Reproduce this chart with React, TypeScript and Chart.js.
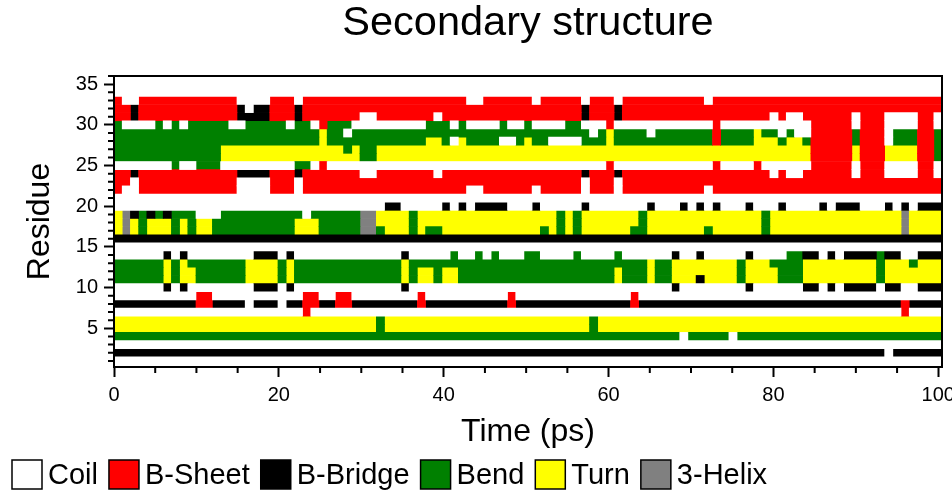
import React, { useEffect, useRef } from 'react';
import { Chart, registerables } from 'chart.js';

Chart.register(...registerables);

const FONT = "'Liberation Sans', Arial, Helvetica, sans-serif";

const structureNames = ['Coil', 'B-Sheet', 'B-Bridge', 'Bend', 'Turn', '3-Helix'];
const structureCodes = ['C', 'E', 'B', 'S', 'T', 'G'];
const structureColors = ['#ffffff', '#ff0000', '#000000', '#008000', '#ffff00', '#808080'];

// time covered by one DSSP frame (ps)
const frameTimePs = 0.9946;
const xMaxPs = 100.45;
const yMinResidue = 0.25;
const yMaxResidue = 36;
const xTickValues = [0, 20, 40, 60, 80, 100];
const yTickValues = [5, 10, 15, 20, 25, 30, 35];
const xMinorStep = 5;
const yMinorStep = 1;

// one string per residue (1 at the bottom), one letter per frame
// C coil, E B-sheet, B B-bridge, S bend, T turn, G 3-helix
const residue01 = 'CCCCCCCCCC CCCCCCCCCC CCCCCCCCCC CCCCCCCCCC CCCCCCCCCC CCCCCCCCCC CCCCCCCCCC CCCCCCCCCC CCCCCCCCCC CCCCCCCCCC C';
const residue02 = 'BBBBBBBBBB BBBBBBBBBB BBBBBBBBBB BBBBBBBBBB BBBBBBBBBB BBBBBBBBBB BBBBBBBBBB BBBBBBBBBB BBBBBBBBBB BBBBCBBBBB B';
const residue03 = 'CCCCCCCCCC CCCCCCCCCC CCCCCCCCCC CCCCCCCCCC CCCCCCCCCC CCCCCCCCCC CCCCCCCCCC CCCCCCCCCC CCCCCCCCCC CCCCCCCCCC C';
const residue04 = 'SSSSSSSSSS SSSSSSSSSS SSSSSSSSSS SSSSSSSSSS SSSSSSSSSS SSSSSSSSSS SSSSSSSSSC SSSSSCSSSS SSSSSSSSSS SSSSSSSSSS S';
const residue05 = 'TTTTTTTTTT TTTTTTTTTT TTTTTTTTTT TTSTTTTTTT TTTTTTTTTT TTTTTTTTST TTTTTTTTTT TTTTTTTTTT TTTTTTTTTT TTTTTTTTTT T';
const residue06 = 'TTTTTTTTTT TTTTTTTTTT TTTTTTTTTT TTSTTTTTTT TTTTTTTTTT TTTTTTTTST TTTTTTTTTT TTTTTTTTTT TTTTTTTTTT TTTTTTTTTT T';
const residue07 = 'CCCCCCCCCC CCCCCCCCCC CCCECCCCCC CCCCCCCCCC CCCCCCCCCC CCCCCCCCCC CCCCCCCCCC CCCCCCCCCC CCCCCCCCCC CCCCCCECCC C';
const residue08 = 'BBBBBBBBBB EEBBBBCBBB CBBEEBBEEB BBBBBBBEBB BBBBBBBBEB BBBBBBBBBB BBBEBBBBBB BBBBBBBBBB BBBBBBBBBB BBBBBBEBBB B';
const residue09 = 'CCCCCCCCCC EECCCCCCCC CCCEECCEEC CCCCCCCECC CCCCCCCCEC CCCCCCCCCC CCCECCCCCC CCCCCCCCCC CCCCCCCCCC CCCCCCCCCC C';
const residue10 = 'CCCCCCBCBC CCCCCCCBBB CBCCCCCCCC CCCCCBCCCC CCCCCCCCCC CCCCCCCCCC CCCCCCCCBC CCCCCCCBCC CCCCBBCBCB BBBCBBCCBB B';
const residue11 = 'SSSSSSTSTT SSSSSSTTTT STSSSSSSSS SSSSSTSTTS TTSSSSSSSS SSSSSSSSSS STSSSTSSTT TBTTTTSTTT TSSSTTTTTT TTTSTTTTTT T';
const residue12 = 'SSSSSSTSTT SSSSSSTTTT STSSSSSSSS SSSSSTSTTS TTSSSSSSSS SSSSSSSSSS STSSSTSSTT TTTTTTSTTT TSSSTTTTTT TTTSTTTTTT T';
const residue13 = 'SSSSSSTSTS SSSSSSTTTT STSSSSSSSS SSSSSTSSSS SSSSSSSSSS SSSSSSSSSS SSSSSTSSTT TTTTTTSTTT SSSSTTTTTT TTTSTTTSTT T';
const residue14 = 'CCCCCCBCBC CCCCCCCBBB CBCCCCCCCC CCCCCBCCCC CSCCSCSCCC SSCCCCSCCC CSCCCCCCBC CBCCCCCBCC CCSSBBCBCB BBBSBBCCBB B';
const residue15 = 'CCCCCCCCCC CCCCCCCCCC CCCCCCCCCC CCCCCCCCCC CCCCCCCCCC CCCCCCCCCC CCCCCCCCCC CCCCCCCCCC CCCCCCCCCC CCCCCCCCCC C';
const residue16 = 'BBBBBBBBBB BBBBBBBBBB BBBBBBBBBB BBBBBBBBBB BBBBBBBBBB BBBBBBBBBB BBBBBBBBBB BBBBBBBBBB BBBBBBBBBB BBBBBBBBBB B';
const residue17 = 'TGTSTTTSTS TTSSSSSSSS SSTTTSSSSS GGSTTTSTSS TTTTTTTTTT TTSTSTSTTT TTTSSTTTTT TTSTTTTTTS TTTTTTTTTT TTTTTTGTTT T';
const residue18 = 'TGTSTTTSTS TTSSSSSSSS SSTTTSSSSS GGTTTTSTTT TTTTTTTTTT TTTTSTSTTT TTTTSTTTTT TTTTTTTTTS TTTTTTTTTT TTTTTTGTTT T';
const residue19 = 'TGBSBSBSSS CCCSSSSSSS SSSCSSSSSS GGTTTTSTTT TTTTTTTTTT TTTTSTSTTT TTTTSTTTTT TTTTTTTTTS TTTTTTTTTT TTTTTTGTTT T';
const residue20 = 'CCCCCCCCCC CCCCCCCCCC CCCCCCCCCC CCCBBCCCCC BCBCBBBBCC CBCCCCCBCC CCCCCBCCCB CBCBCCCBCC CBCCCCBCBB BCCCBCBCBB B';
const residue21 = 'CCCCCCCCCC CCCCCCCCCC CCCCCCCCCC CCCCCCCCCC CCCCCCCCCC CCCCCCCCCC CCCCCCCCCC CCCCCCCCCC CCCCCCCCCC CCCCCCCCCC C';
const residue22 = 'ECCEEEEEEE EEEEECCCCE EECEEEEEEE EEEEEEEEEE EEECCEEEEE ECEEEEECEE ECEEEEEEEE EECEEEEEEE EEEEEEEEEE EEEEEEEEEE E';
const residue23 = 'EECEEEEEEE EEEEECCCCE EECEEEEEEE EEEEEEEEEE EEEEEEEEEE EEEEEEECEE ECEEEEEEEE EEEEEEEEEE EEEEEEEEEE EEEEEEEEEE E';
const residue24 = 'EEBEEEEEEE EEEEEBBBBE EEBEEEEEEE CCEEEEEEEC EEEEEEEEEE EEEEEEEBEE EBEEEEEEEE EEEEEEEEEE CECCEEEEEE CEEECCCCEE C';
const residue25 = 'CCCCCCCSCC SSSCCCCCCC CCSSCECCCC CCCCCCCCCC CCCCCCCCCC CCCCCCCCCC ECCCCCCCCC CCCECCCCEC CCCCCEEEEE CEEECCCCEE C';
const residue26 = 'SSSSSSSSSS SSSTTTTTTT TTTTTTTTTT SSTTTTTTTT TTTTTTTTTT TTTTTTTTTT TTTTTTTTTT TTTTTTTTTT TTTTTEEEEE TEEETTTTEE S';
const residue27 = 'SSSSSSSSSS SSSTTTTTTT TTTTTTTTST SSTTTTTTTT TTTTTTTTTT TTTTTTTTTT TTTTTTTTTT TTTTTTTTTT TTTTTEEEEE TEEETTTTEE S';
const residue28 = 'SSSSSSSSSS SSSSSSSSSS SSSSSTSSSS SSSSSSSSTT SCTSSSSCCS TSSCCCCSSS TSSSSSSSSS SSSESSSSTT TSTTSEEEEE SEEECSSSEE S';
const residue29 = 'SSSSSSSSSS SSSSSSSSSS SSSSSTSSCS SSSSSSSSSS SSSSSSSSSS SSSSSSSSCS TSSSSCSSSS SSSESSSSTS SCSCCEEEEE SEEECSSSEE S';
const residue30 = 'SCCCCSCSCS SSSSCCSSSS SCSSCESSSC CCCCCCCCSS SCSCCCCSCC SCCCCSSCCC ECCCCCCCCC CCCECCCCCC CCCCCEEEEE CEEECCCCEE C';
const residue31 = 'EEBEEEEEEE EEEEEBBBBE EEBEEEEEEE CCEEEEEEEC EEEEEEEEEE EEEEEEEBEE EBEEEEEEEE EEEEEEEEEE CECCEEEEEE CEEECCCCEE C';
const residue32 = 'EEBEEEEEEE EEEEEBCBBE EEBEEEEEEE EEEEEEEEEE EEEEEEEEEE EEEEEEEBEE EBEEEEEEEE EEEEEEEEEE EEEEEEEEEE EEEEEEEEEE E';
const residue33 = 'ECCEEEEEEE EEEEECCCCE EECEEEEEEE EEEEEEEEEE EEECCEEEEE ECEEEEECEE ECEEEEEEEE EECEEEEEEE EEEEEEEEEE EEEEEEEEEE E';
const residue34 = 'CCCCCCCCCC CCCCCCCCCC CCCCCCCCCC CCCCCCCCCC CCCCCCCCCC CCCCCCCCCC CCCCCCCCCC CCCCCCCCCC CCCCCCCCCC CCCCCCCCCC C';
const residue35 = 'CCCCCCCCCC CCCCCCCCCC CCCCCCCCCC CCCCCCCCCC CCCCCCCCCC CCCCCCCCCC CCCCCCCCCC CCCCCCCCCC CCCCCCCCCC CCCCCCCCCC C';

const residueRows = [
  residue01, residue02, residue03, residue04, residue05, residue06, residue07,
  residue08, residue09, residue10, residue11, residue12, residue13, residue14,
  residue15, residue16, residue17, residue18, residue19, residue20, residue21,
  residue22, residue23, residue24, residue25, residue26, residue27, residue28,
  residue29, residue30, residue31, residue32, residue33, residue34, residue35,
];

function buildDatasets() {
  return structureCodes.map((code, si) => {
    const data: { x: [number, number]; y: number }[] = [];
    residueRows.forEach((row, ri) => {
      const s = row.replace(/\s+/g, '');
      let i = 0;
      while (i < s.length) {
        let j = i;
        while (j < s.length && s[j] === s[i]) j++;
        if (s[i] === code) data.push({ y: ri + 1, x: [i * frameTimePs, j * frameTimePs] });
        i = j;
      }
    });
    return {
      label: structureNames[si],
      data,
      backgroundColor: structureColors[si],
      borderWidth: 0,
      grouped: false,
      barPercentage: 1,
      categoryPercentage: 1,
    };
  });
}

const frameAndMinorTicks = {
  id: 'frameAndMinorTicks',
  afterDraw(chart: any) {
    const { ctx, chartArea, scales } = chart;
    const xs = scales.x;
    const ys = scales.y;
    ctx.save();
    ctx.strokeStyle = '#000';
    ctx.lineWidth = 2;
    ctx.beginPath();
    for (let v = Math.ceil(ys.min); v <= ys.max; v += yMinorStep) {
      if (yTickValues.includes(v)) continue;
      const py = ys.getPixelForValue(v);
      ctx.moveTo(chartArea.left - 6, py);
      ctx.lineTo(chartArea.left, py);
    }
    for (let v = 0; v <= xs.max; v += xMinorStep) {
      if (xTickValues.includes(v)) continue;
      const px = xs.getPixelForValue(v);
      ctx.moveTo(px, chartArea.bottom);
      ctx.lineTo(px, chartArea.bottom + 6);
    }
    ctx.stroke();
    ctx.strokeRect(chartArea.left, chartArea.top, chartArea.right - chartArea.left, chartArea.bottom - chartArea.top);
    ctx.restore();
  },
};

const boxLegend = {
  id: 'boxLegend',
  afterDraw(chart: any) {
    const ctx = chart.ctx;
    const boxW = 30;
    const boxH = 29;
    const top = 460;
    ctx.save();
    ctx.font = `29px ${FONT}`;
    ctx.textBaseline = 'middle';
    ctx.textAlign = 'left';
    let x = 12;
    chart.data.datasets.forEach((ds: any) => {
      ctx.fillStyle = ds.backgroundColor;
      ctx.fillRect(x, top, boxW, boxH);
      ctx.strokeStyle = '#000';
      ctx.lineWidth = 1.5;
      ctx.strokeRect(x, top, boxW, boxH);
      ctx.fillStyle = '#000';
      ctx.fillText(ds.label, x + boxW + 6, top + boxH / 2 + 1);
      x += boxW + 6 + ctx.measureText(ds.label).width + 11;
    });
    ctx.restore();
  },
};

export default function App() {
  const ref = useRef<HTMLCanvasElement>(null);
  useEffect(() => {
    Chart.defaults.color = '#000';
    const chart = new Chart(ref.current as HTMLCanvasElement, {
      type: 'bar',
      data: { datasets: buildDatasets() as any },
      plugins: [frameAndMinorTicks, boxLegend],
      options: {
        indexAxis: 'y',
        animation: false,
        responsive: false,
        devicePixelRatio: 1,
        layout: { padding: { left: 0, right: 10, top: 0, bottom: 47 } },
        plugins: {
          tooltip: { enabled: false },
          title: { display: false },
          legend: { display: false },
        },
        scales: {
          xTop: {
            type: 'linear',
            position: 'top',
            min: 0,
            max: xMaxPs,
            offset: false,
            afterFit: (s: any) => { s.height = 76; s.paddingLeft = 0; s.paddingRight = 0; },
            ticks: { display: false },
            grid: { display: false, drawTicks: false },
            border: { display: false },
            title: {
              display: true,
              text: 'Secondary structure',
              color: '#000',
              font: { family: FONT, size: 41.5, lineHeight: 1 },
              padding: { top: 3, bottom: 0 },
            },
          },
          x: {
            type: 'linear',
            position: 'bottom',
            min: 0,
            max: xMaxPs,
            offset: false,
            afterBuildTicks: (s: any) => { s.ticks = xTickValues.map((v) => ({ value: v })); },
            afterFit: (s: any) => { s.height = 81; s.paddingLeft = 0; s.paddingRight = 0; },
            ticks: { font: { family: FONT, size: 20 }, padding: 6, maxRotation: 0, autoSkip: false },
            grid: { offset: false, drawOnChartArea: false, drawTicks: true, tickLength: 10, tickWidth: 2, tickColor: '#000' },
            border: { display: true, color: '#000', width: 2 },
            title: {
              display: true,
              text: 'Time (ps)',
              color: '#000',
              font: { family: FONT, size: 32, lineHeight: 0.9 },
              padding: { top: 0, bottom: 1 },
            },
          },
          y: {
            type: 'linear',
            min: yMinResidue,
            max: yMaxResidue,
            offset: false,
            afterBuildTicks: (s: any) => { s.ticks = yTickValues.map((v) => ({ value: v })); },
            afterFit: (s: any) => { s.width = 114; s.paddingTop = 0; s.paddingBottom = 0; },
            ticks: { font: { family: FONT, size: 20 }, padding: 6, autoSkip: false },
            grid: { offset: false, drawOnChartArea: false, drawTicks: true, tickLength: 10, tickWidth: 2, tickColor: '#000' },
            border: { display: true, color: '#000', width: 2 },
            title: {
              display: true,
              text: 'Residue',
              color: '#000',
              font: { family: FONT, size: 32, lineHeight: 1 },
              padding: { top: 24, bottom: 0 },
            },
          },
        },
      } as any,
    });
    return () => chart.destroy();
  }, []);
  return (
    <div style={{ position: 'fixed', left: 0, top: 0, width: 952, height: 495, overflow: 'hidden', background: '#fff' }}>
      <canvas ref={ref} width={952} height={495} style={{ display: 'block', width: 952, height: 495 }} />
    </div>
  );
}
